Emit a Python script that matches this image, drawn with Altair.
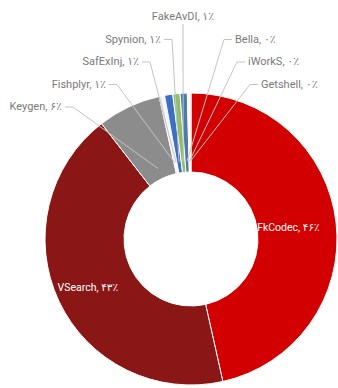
import math
import altair as alt
import pandas as pd

# ---- data ----
names = ["FkCodec", "VSearch", "Keygen", "Fishplyr", "SafExInj", "Spynion",
         "FakeAvDI", "Bella", "iWorkS", "Getshell"]
values = [46.5, 43.0, 7.0, 0.3, 0.3, 0.9, 0.8, 0.8, 0.2, 0.2]
pct_text = ["۴۶٪", "۴۳٪", "۶٪", "۱٪", "۱٪", "۱٪", "۱٪", "۰٪", "۰٪", "۰٪"]
colors = ["#d20000", "#8a1616", "#8c8c8c", "#e4e4e4", "#eef2f8", "#3d6fc4",
          "#8dbf6c", "#4f7ba7", "#f1f1f1", "#f4dcdc"]

# ---- layout parameters ----
W, H = 338, 388
CX, CY = 191, 239
R_OUT, R_IN = 146, 67
INNER_LABEL_R = {"FkCodec": 98, "VSearch": 114}
R_LINE_END = 78
TOP_Y, ROW = 17, 22.5
TOP_LABEL = "FakeAvDI"
FONT = "Roboto, 'DejaVu Sans', sans-serif"

total = sum(values)
labels = [f"{n}, {p}" for n, p in zip(names, pct_text)]
df = pd.DataFrame({"name": names, "value": values, "label": labels,
                   "idx": list(range(len(names)))})

# mid angles of each slice (degrees, clockwise from top)
mids = []
cum = 0.0
for v in values:
    mids.append((cum + v / 2) / total * 360.0)
    cum += v

big = [i for i, v in enumerate(values) if v >= 10]
small = [i for i, v in enumerate(values) if v < 10]
pivot = names.index(TOP_LABEL)

inner_rows = []
for i in big:
    a = math.radians(mids[i])
    r = INNER_LABEL_R.get(names[i], 100)
    inner_rows.append({"name": names[i], "label": labels[i],
                       "x": CX + r * math.sin(a), "y": CY - r * math.cos(a)})
idf = pd.DataFrame(inner_rows)

text_rows, line_rows = [], []
for i in small:
    k = abs(i - pivot)
    y = TOP_Y + ROW * k
    a = math.radians(mids[i])
    px = CX + R_LINE_END * math.sin(a)
    py = CY - R_LINE_END * math.cos(a)
    if i < pivot:
        side = "left"
        tx = CX - (30 + 22 * (k - 1) + 5.5 * (k - 1) * (k - 2))
        p0 = tx + 3
        elbow = p0 + 8
        pts = [(p0, y), (elbow, y), (px, py)]
    elif i > pivot:
        side = "right"
        tx = CX + 44 + 13 * (k - 1)
        p0 = tx - 3
        elbow = p0 - 8
        pts = [(p0, y), (elbow, y), (px, py)]
    else:
        side = "top"
        tx = CX - 8
        pts = [(tx, y + 7), (px, py)]
    text_rows.append({"name": names[i], "label": labels[i], "x": tx, "y": y, "side": side})
    for s, (xx, yy) in enumerate(pts):
        line_rows.append({"name": names[i], "step": s, "x": xx, "y": yy})

tdf = pd.DataFrame(text_rows)
ldf = pd.DataFrame(line_rows)

xs = alt.Scale(domain=[0, W], range=[0, W], nice=False, zero=False)
ys = alt.Scale(domain=[0, H], range=[0, H], nice=False, zero=False)

arcs = alt.Chart(df).mark_arc(
    outerRadius=R_OUT, innerRadius=R_IN, stroke="white", strokeWidth=1
).encode(
    theta=alt.Theta("value:Q", stack=True),
    order=alt.Order("idx:Q"),
    color=alt.Color("name:N", scale=alt.Scale(domain=names, range=colors), legend=None),
    x=alt.value(CX), y=alt.value(CY),
)

inner_text = alt.Chart(idf).mark_text(
    color="white", fontSize=10.5, font=FONT, baseline="middle"
).encode(
    x=alt.X("x:Q", scale=xs, axis=None),
    y=alt.Y("y:Q", scale=ys, axis=None),
    text="label:N",
)

lines = alt.Chart(ldf).mark_line(color="#c4c4c4", strokeWidth=1).encode(
    x=alt.X("x:Q", scale=xs, axis=None),
    y=alt.Y("y:Q", scale=ys, axis=None),
    detail="name:N",
    order="step:Q",
)

def outer(side, align):
    return alt.Chart(tdf).transform_filter(alt.datum.side == side).mark_text(
        align=align, baseline="middle", fontSize=11, color="#7a7a7a", font=FONT
    ).encode(
        x=alt.X("x:Q", scale=xs, axis=None),
        y=alt.Y("y:Q", scale=ys, axis=None),
        text="label:N",
    )

chart = alt.layer(
    arcs, lines, inner_text,
    outer("left", "right"), outer("right", "left"), outer("top", "center"),
).properties(
    width=W, height=H, padding=0, autosize=alt.AutoSizeParams(type="none"),
    background="white",
).configure_view(stroke=None)

chart.save("out.html", embed_options={"renderer": "svg", "actions": False})
